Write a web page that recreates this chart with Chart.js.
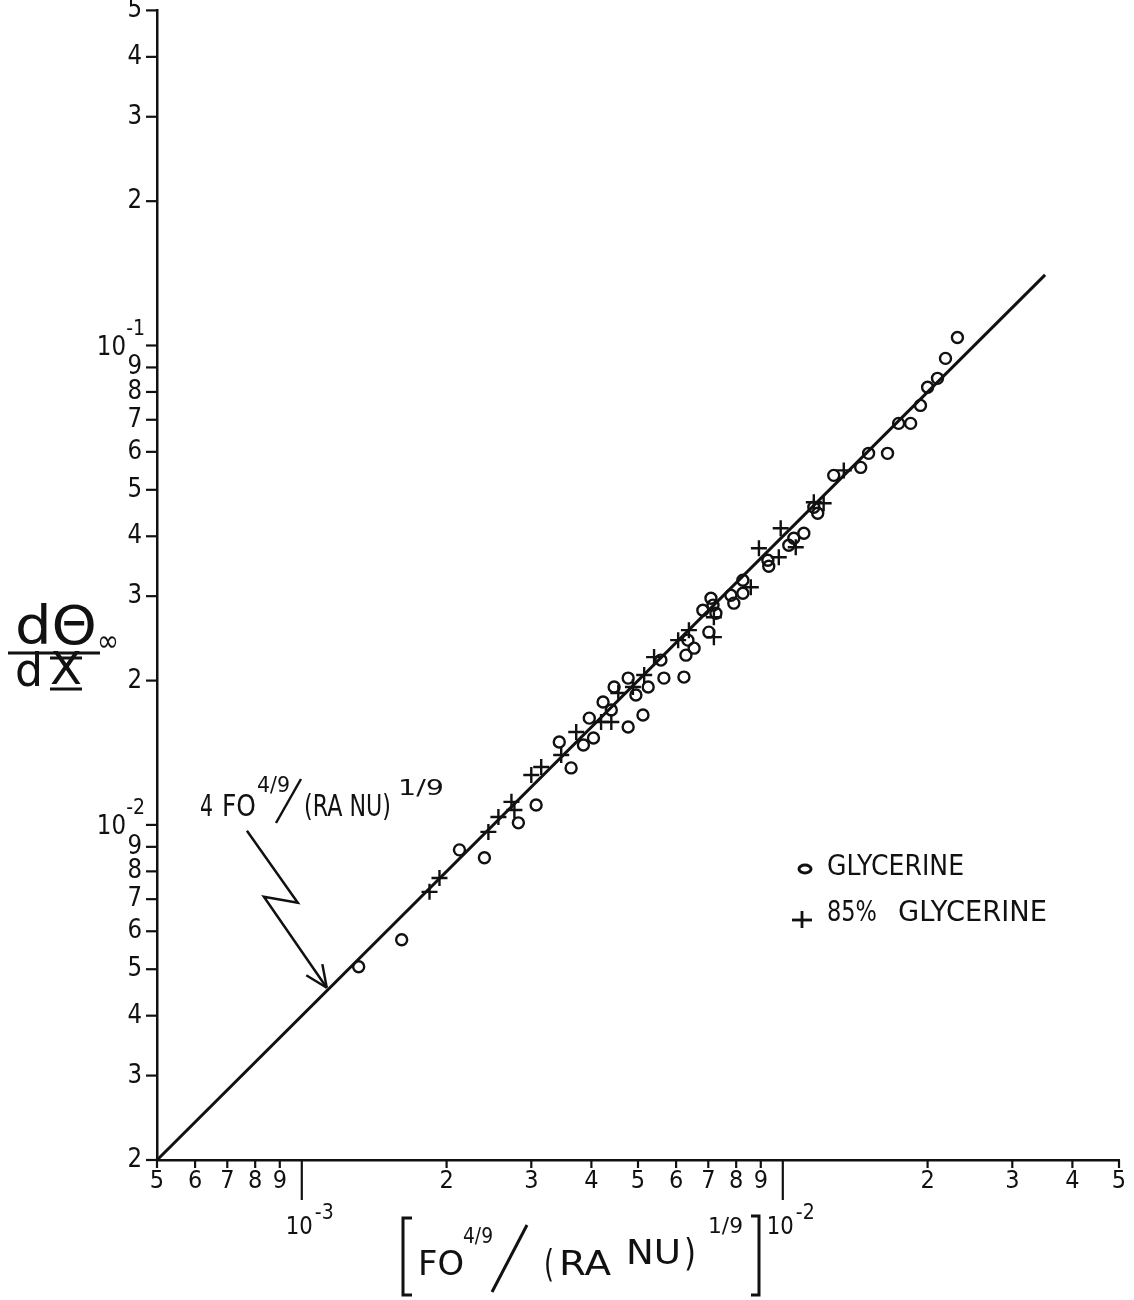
<!DOCTYPE html>
<html>
<head>
<meta charset="utf-8">
<title>dθ∞/dX vs FO^(4/9)/(RA NU)^(1/9)</title>
<script src="https://cdn.jsdelivr.net/npm/chart.js@4.4.1/dist/chart.umd.min.js"></script>
<style>
  html, body { margin: 0; padding: 0; background: #fff; }
  #chart { display: block; }
</style>
</head>
<body>
<canvas id="chart" width="1134" height="1300"></canvas>
<script>
// --- data ---
const glyX = [1.313e-3, 1.613e-3, 2.127e-3, 2.397e-3, 2.82e-3, 3.07e-3, 3.63e-3, 3.43e-3, 3.85e-3, 3.96e-3,
  4.04e-3, 4.23e-3, 4.40e-3, 4.77e-3, 5.12e-3, 4.46e-3, 4.77e-3, 4.95e-3, 5.25e-3, 5.66e-3,
  6.23e-3, 5.58e-3, 6.35e-3, 6.54e-3, 6.29e-3, 7.02e-3, 6.82e-3, 7.16e-3, 7.26e-3, 7.09e-3,
  7.80e-3, 7.91e-3, 8.26e-3, 8.26e-3, 9.31e-3, 9.35e-3, 1.029e-2, 1.054e-2, 1.106e-2, 1.160e-2,
  1.182e-2, 1.276e-2, 1.452e-2, 1.508e-2, 1.651e-2, 1.741e-2, 1.844e-2, 1.933e-2, 2.0e-2, 2.097e-2,
  2.179e-2, 2.307e-2];
const glyY = [5.06e-3, 5.76e-3, 8.87e-3, 8.54e-3, 1.01e-2, 1.10e-2, 1.315e-2, 1.489e-2, 1.468e-2, 1.670e-2,
  1.518e-2, 1.804e-2, 1.737e-2, 1.600e-2, 1.695e-2, 1.939e-2, 2.024e-2, 1.866e-2, 1.939e-2, 2.024e-2,
  2.034e-2, 2.207e-2, 2.429e-2, 2.337e-2, 2.26e-2, 2.524e-2, 2.804e-2, 2.873e-2, 2.764e-2, 2.971e-2,
  3.014e-2, 2.901e-2, 3.043e-2, 3.238e-2, 3.565e-2, 3.464e-2, 3.831e-2, 3.962e-2, 4.058e-2, 4.598e-2,
  4.467e-2, 5.359e-2, 5.568e-2, 5.957e-2, 5.957e-2, 6.879e-2, 6.879e-2, 7.499e-2, 8.18e-2, 8.54e-2,
  9.40e-2, 1.039e-1];

const plusX = [1.843e-3, 1.933e-3, 2.443e-3, 2.563e-3, 2.728e-3, 2.767e-3, 3.0e-3, 3.146e-3, 3.462e-3, 3.72e-3,
  4.19e-3, 4.40e-3, 4.55e-3, 4.88e-3, 5.15e-3, 5.40e-3, 6.06e-3, 6.38e-3, 7.19e-3, 7.19e-3,
  8.58e-3, 8.92e-3, 9.81e-3, 9.90e-3, 1.064e-2, 1.216e-2, 1.160e-2, 1.339e-2];
const plusY = [7.25e-3, 7.75e-3, 9.67e-3, 1.039e-2, 1.117e-2, 1.074e-2, 1.271e-2, 1.321e-2, 1.399e-2, 1.562e-2,
  1.639e-2, 1.639e-2, 1.884e-2, 1.939e-2, 2.054e-2, 2.239e-2, 2.429e-2, 2.548e-2, 2.464e-2, 2.712e-2,
  3.132e-2, 3.776e-2, 3.616e-2, 4.157e-2, 3.794e-2, 4.687e-2, 4.710e-2, 5.489e-2];

// 4 FO^(4/9)/(RA NU)^(1/9) reference line
const fitX = [5e-4, 0.0351];
const fitY = [2e-3, 0.1404];

// zig-zag arrow pointing at the line
const arrowX = [7.69e-4, 9.81e-4, 8.34e-4, 1.127e-3];
const arrowY = [9.72e-3, 6.88e-3, 7.08e-3, 4.575e-3];

const xTickValues = [5e-4, 6e-4, 7e-4, 8e-4, 9e-4, 1e-3, 2e-3, 3e-3, 4e-3, 5e-3, 6e-3, 7e-3, 8e-3, 9e-3,
  1e-2, 2e-2, 3e-2, 4e-2, 5e-2];
const xTickLabels = ['5', '6', '7', '8', '9', '10^-3', '2', '3', '4', '5', '6', '7', '8', '9',
  '10^-2', '2', '3', '4', '5'];
const yTickValues = [2e-3, 3e-3, 4e-3, 5e-3, 6e-3, 7e-3, 8e-3, 9e-3, 1e-2, 2e-2, 3e-2, 4e-2, 5e-2, 6e-2,
  7e-2, 8e-2, 9e-2, 1e-1, 2e-1, 3e-1, 4e-1, 5e-1];
const yTickLabels = ['2', '3', '4', '5', '6', '7', '8', '9', '10^-2', '2', '3', '4', '5', '6',
  '7', '8', '9', '10^-1', '2', '3', '4', '5'];

const ink = '#111';
const FONT = '"DejaVu Sans", "Liberation Sans", sans-serif';

function txt(ctx, s, x, y, size, opt = {}) {
  ctx.save();
  ctx.font = `${size}px ${FONT}`;
  ctx.textBaseline = 'middle';
  ctx.textAlign = 'left';
  const raw = ctx.measureText(s).width;
  const sx = opt.w ? opt.w / raw : (opt.sx || 1);
  const w = raw * sx;
  const x0 = opt.align === 'right' ? x - w : opt.align === 'center' ? x - w / 2 : x;
  ctx.translate(x0, y);
  ctx.scale(sx, 1);
  ctx.fillText(s, 0, 0);
  ctx.restore();
  return x0 + w;
}

function path(ctx, pts, lw) {
  ctx.beginPath();
  ctx.lineWidth = lw;
  pts.forEach(([px, py], i) => i ? ctx.lineTo(px, py) : ctx.moveTo(px, py));
  ctx.stroke();
}

const paperPlugin = {
  id: 'paper',
  afterDraw(chart) {
    const { ctx, chartArea: a } = chart;
    const x = chart.scales.x, y = chart.scales.y;
    ctx.save();
    ctx.strokeStyle = ink;
    ctx.fillStyle = ink;
    ctx.lineCap = 'butt';

    // y ticks + labels
    yTickValues.forEach((v, i) => {
      const py = y.getPixelForValue(v);
      path(ctx, [[a.left - 11, py], [a.left, py]], 2.2);
      const lab = yTickLabels[i];
      if (lab.startsWith('10^')) {
        txt(ctx, '10', a.left - 31, py + 2, 27, { align: 'right', sx: 0.85 });
        txt(ctx, lab.slice(3), a.left - 12, py - 16, 21, { align: 'right', sx: 0.9 });
      } else {
        txt(ctx, lab, a.left - 15, py, 27, { align: 'right', sx: 0.85 });
      }
    });

    // x ticks + labels
    xTickValues.forEach((v, i) => {
      const px = x.getPixelForValue(v);
      const lab = xTickLabels[i];
      if (lab.startsWith('10^')) {
        path(ctx, [[px, a.bottom], [px, a.bottom + 40]], 2.2);
        const end = txt(ctx, '10', px - 16, a.bottom + 67, 25, { sx: 0.85 });
        txt(ctx, lab.slice(3), end + 2, a.bottom + 54, 21, { sx: 0.9 });
      } else {
        path(ctx, [[px, a.bottom], [px, a.bottom + 8]], 2.2);
        txt(ctx, lab, px, a.bottom + 21, 25, { align: 'center', sx: 0.9 });
      }
    });

    // x axis title  [FO^(4/9)/(RA NU)^(1/9)]
    path(ctx, [[412, 1218], [403, 1218], [403, 1295], [412, 1295]], 3);
    txt(ctx, 'FO', 418, 1266, 34, { w: 46 });
    txt(ctx, '4/9', 463, 1237, 22, { w: 30 });
    path(ctx, [[492, 1292], [527, 1225]], 3);
    txt(ctx, '(', 544, 1266, 38, { w: 10 });
    txt(ctx, 'RA', 559, 1266, 34, { w: 52 });
    txt(ctx, 'NU', 626, 1255, 34, { w: 55 });
    txt(ctx, ')', 684, 1255, 38, { w: 12 });
    txt(ctx, '1/9', 708, 1227, 22, { w: 35 });
    path(ctx, [[751, 1216], [759, 1216], [759, 1295], [751, 1295]], 3);

    // y axis title  dΘ∞ / dX
    txt(ctx, 'dΘ', 15, 630, 54, { w: 82 });
    txt(ctx, '∞', 97, 643, 30, { w: 22 });
    path(ctx, [[8, 653], [100, 653]], 3);
    txt(ctx, 'd', 15, 674, 46, { w: 28 });
    txt(ctx, 'X', 50, 673, 44, { w: 32 });
    path(ctx, [[50, 658], [82, 658]], 3);
    path(ctx, [[50, 689], [82, 689]], 3);

    // line annotation
    txt(ctx, '4', 200, 808, 30, { w: 13 });
    txt(ctx, 'FO', 222, 808, 30, { w: 34 });
    txt(ctx, '4/9', 257, 786, 22, { w: 33 });
    path(ctx, [[276, 823], [301, 779]], 2.5);
    txt(ctx, '(RA NU)', 304, 808, 30, { w: 87 });
    txt(ctx, '1/9', 398, 789, 22, { w: 46 });

    const ap = arrowX.map((v, i) => [x.getPixelForValue(v), y.getPixelForValue(arrowY[i])]);
    path(ctx, ap, 2.5);
    const [tx, ty] = ap[ap.length - 1];
    const [sx, sy] = ap[ap.length - 2];
    const ang = Math.atan2(ty - sy, tx - sx);
    [0.42, -0.42].forEach(d => {
      path(ctx, [[tx, ty], [tx - 24 * Math.cos(ang + d), ty - 24 * Math.sin(ang + d)]], 2.5);
    });

    // legend
    ctx.beginPath();
    ctx.lineWidth = 3;
    ctx.ellipse(805, 869, 6, 4, 0, 0, Math.PI * 2);
    ctx.stroke();
    txt(ctx, chart.data.datasets[1].label, 827, 867, 29, { w: 137 });
    path(ctx, [[792, 920], [812, 920]], 2.8);
    path(ctx, [[802, 911], [802, 928]], 2.8);
    txt(ctx, '85%', 827, 913, 29, { w: 50 });
    txt(ctx, 'GLYCERINE', 898, 913, 29, { w: 149 });

    ctx.restore();
  }
};

const axisOpts = (min, max) => ({
  type: 'logarithmic',
  min: min,
  max: max,
  ticks: { display: false },
  grid: { display: false, drawTicks: false },
  border: { display: true, color: ink, width: 2.5 }
});

const xScale = axisOpts(5e-4, 5e-2);
xScale.afterFit = s => { s.height = 0; };
const yScale = axisOpts(2e-3, 5e-1);
yScale.afterFit = s => { s.width = 0; };

new Chart(document.getElementById('chart').getContext('2d'), {
  type: 'scatter',
  data: {
    datasets: [
      {
        label: 'fit',
        data: fitX.map((v, i) => ({ x: v, y: fitY[i] })),
        showLine: true,
        borderColor: ink,
        borderWidth: 3,
        pointRadius: 0
      },
      {
        label: 'GLYCERINE',
        data: glyX.map((v, i) => ({ x: v, y: glyY[i] })),
        pointStyle: 'circle',
        pointRadius: 5.5,
        borderWidth: 2.4,
        borderColor: ink,
        backgroundColor: 'rgba(0,0,0,0)'
      },
      {
        label: '85% GLYCERINE',
        data: plusX.map((v, i) => ({ x: v, y: plusY[i] })),
        pointStyle: 'cross',
        pointRadius: 8,
        borderWidth: 2.4,
        borderColor: ink
      }
    ]
  },
  options: {
    responsive: false,
    animation: false,
    devicePixelRatio: 1,
    layout: { padding: { left: 157, right: 15, top: 9, bottom: 140 } },
    plugins: { legend: { display: false }, tooltip: { enabled: false } },
    scales: { x: xScale, y: yScale }
  },
  plugins: [paperPlugin]
});
</script>
</body>
</html>
